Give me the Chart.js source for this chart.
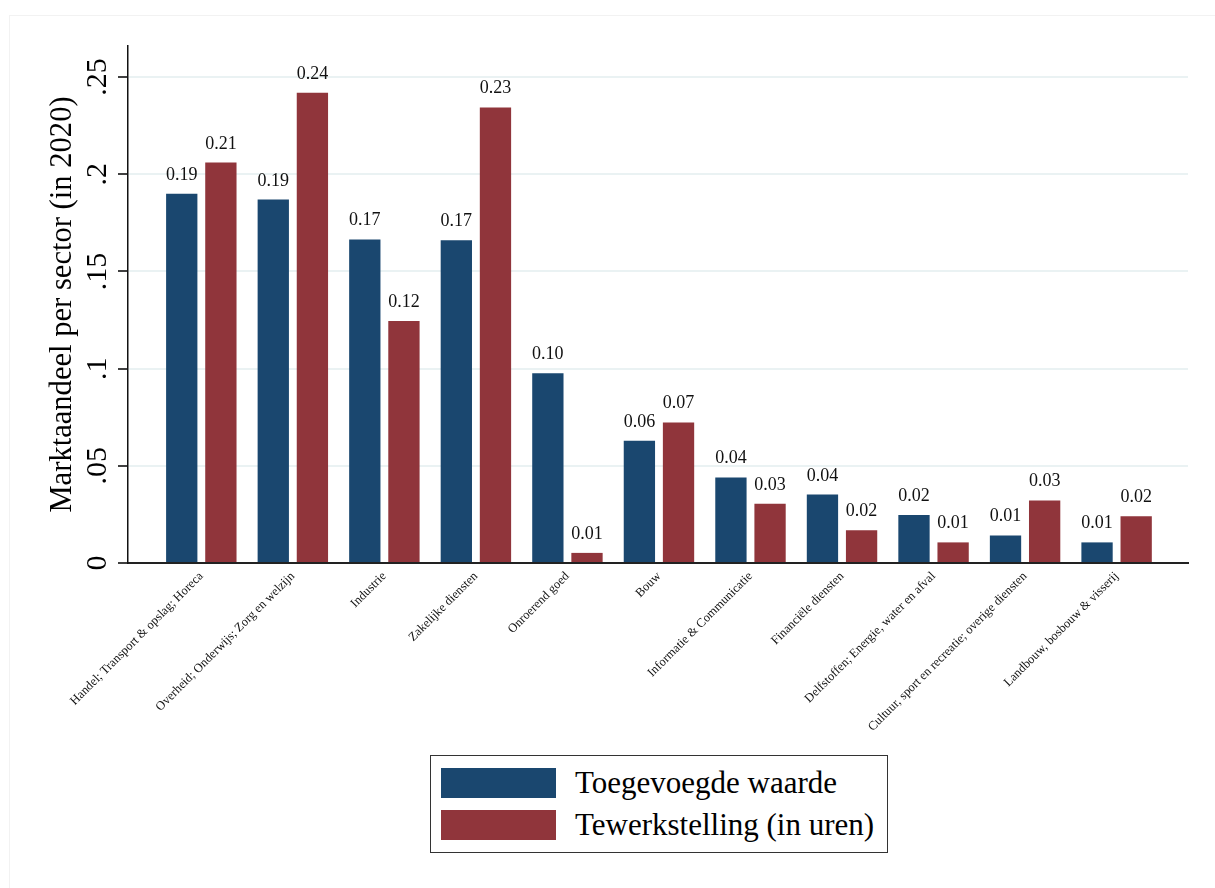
<!DOCTYPE html>
<html>
<head>
<meta charset="utf-8">
<title>Marktaandeel per sector</title>
<script src="https://cdn.jsdelivr.net/npm/chart.js@4.4.1/dist/chart.umd.min.js"></script>
<style>
  html, body { margin: 0; padding: 0; background: #fff; }
  #wrap { position: relative; width: 1215px; height: 888px; overflow: hidden; }
  #frame { position: absolute; left: 9px; top: 15px; width: 1300px; height: 1000px;
           border-left: 1px solid #f2f2f2; border-top: 1px solid #f2f2f2; }
  #chart { position: absolute; left: 0; top: 0; }
  #legend { position: absolute; left: 430px; top: 755px; width: 458px; height: 98px;
            box-sizing: border-box; border: 1.5px solid #333; background: #fff;
            font-family: "Liberation Serif", serif; font-size: 31px; color: #000; }
  .item { position: absolute; left: 10px; height: 30px; display: flex; align-items: center; white-space: nowrap; }
  .swatch { width: 115px; height: 30px; margin-right: 19px; flex: none; }
</style>
</head>
<body>
<div id="wrap">
  <div id="frame"></div>
  <canvas id="chart" width="1215" height="888"></canvas>
  <div id="legend"></div>
</div>
<script>
// --------------------------
// data
// --------------------------
const categories = [
  "Handel; Transport & opslag; Horeca",
  "Overheid; Onderwijs; Zorg en welzijn",
  "Industrie",
  "Zakelijke diensten",
  "Onroerend goed",
  "Bouw",
  "Informatie & Communicatie",
  "Financiële diensten",
  "Delfstoffen; Energie, water en afval",
  "Cultuur, sport en recreatie; overige diensten",
  "Landbouw, bosbouw & visserij"
];
const toegevoegdeWaarde = [0.190, 0.187, 0.1665, 0.166, 0.0976, 0.0629, 0.0440, 0.0352, 0.0247, 0.0142, 0.0106];
const tewerkstelling = [0.206, 0.242, 0.1245, 0.2344, 0.0052, 0.0723, 0.0305, 0.0168, 0.0106, 0.0322, 0.0240];
const seriesLabels = ["Toegevoegde waarde", "Tewerkstelling (in uren)"];
const seriesColors = ["#1a476f", "#90353b"];
const yTickValues = [0, 0.05, 0.1, 0.15, 0.2, 0.25];
const yTickLabels = ["0", ".05", ".1", ".15", ".2", ".25"];
const yTitle = "Marktaandeel per sector (in 2020)";

const SERIF = '"Liberation Serif", serif';

// bars sit on a numeric index axis so the outer margins can match the original
function toPoints(values) {
  return values.map((v, i) => ({ x: i, y: v }));
}

// --------------------------
// plugins
// --------------------------
const valueLabels = {
  id: "valueLabels",
  afterDatasetsDraw(chart) {
    const ctx = chart.ctx;
    ctx.save();
    ctx.font = "18px " + SERIF;
    ctx.fillStyle = "#111";
    ctx.textAlign = "center";
    ctx.textBaseline = "alphabetic";
    chart.data.datasets.forEach((ds, di) => {
      chart.getDatasetMeta(di).data.forEach((bar, i) => {
        ctx.fillText(ds.data[i].y.toFixed(2), bar.x, bar.y - 14);
      });
    });
    ctx.restore();
  }
};

const yAxisText = {
  id: "yAxisText",
  afterDraw(chart) {
    const ctx = chart.ctx;
    const y = chart.scales.y;
    const area = chart.chartArea;
    ctx.save();
    ctx.fillStyle = "#000";
    ctx.textAlign = "center";
    ctx.textBaseline = "alphabetic";
    ctx.font = "30px " + SERIF;
    yTickValues.forEach((v, i) => {
      ctx.save();
      ctx.translate(106, y.getPixelForValue(v));
      ctx.rotate(-Math.PI / 2);
      ctx.fillText(yTickLabels[i], 0, 0);
      ctx.restore();
    });
    ctx.font = "30.6px " + SERIF;
    ctx.translate(71, (area.top + area.bottom) / 2);
    ctx.rotate(-Math.PI / 2);
    ctx.fillText(yTitle, 0, 0);
    ctx.restore();
  }
};

// --------------------------
// chart
// --------------------------
const chart = new Chart(document.getElementById("chart").getContext("2d"), {
  type: "bar",
  data: {
    datasets: [
      { label: seriesLabels[0], data: toPoints(toegevoegdeWaarde), backgroundColor: seriesColors[0] },
      { label: seriesLabels[1], data: toPoints(tewerkstelling), backgroundColor: seriesColors[1] }
    ]
  },
  options: {
    responsive: false,
    animation: false,
    devicePixelRatio: 1,
    layout: { padding: { left: 0, top: 46, right: 27, bottom: 0 } },
    categoryPercentage: 0.855,
    barPercentage: 0.8,
    plugins: { legend: { display: false }, tooltip: { enabled: false } },
    scales: {
      x: {
        type: "linear",
        offset: false,
        min: -0.801,
        max: 10.78,
        grid: { display: false, drawTicks: false },
        border: { display: true, color: "#222", width: 2 },
        afterBuildTicks: scale => { scale.ticks = categories.map((c, i) => ({ value: i })); },
        afterFit: scale => { scale.height = 888 - 563; },
        ticks: {
          autoSkip: false,
          minRotation: 45,
          maxRotation: 45,
          padding: 6,
          color: "#111",
          font: { family: SERIF, size: 12.5 },
          callback: value => categories[value]
        }
      },
      y: {
        min: 0,
        max: 0.266,
        afterBuildTicks: scale => { scale.ticks = yTickValues.map(v => ({ value: v })); },
        afterFit: scale => { scale.width = 128; },
        ticks: { display: false },
        grid: {
          color: c => (c.tick && c.tick.value === 0 ? "rgba(0,0,0,0)" : "#eaf2f3"),
          lineWidth: 2,
          tickColor: "#000",
          tickLength: 10,
          tickWidth: 1.5
        },
        border: { display: true, color: "#111", width: 1.5 }
      }
    }
  },
  plugins: [valueLabels, yAxisText]
});

// --------------------------
// legend (boxed, two rows)
// --------------------------
const legendEl = document.getElementById("legend");
legendEl.innerHTML = chart.data.datasets
  .map((ds, i) => `
    <div class="item" style="top:${i === 0 ? 11.5 : 53.5}px">
      <span class="swatch" style="background:${ds.backgroundColor}"></span>
      <span>${ds.label}</span>
    </div>`)
  .join("");
</script>
</body>
</html>
